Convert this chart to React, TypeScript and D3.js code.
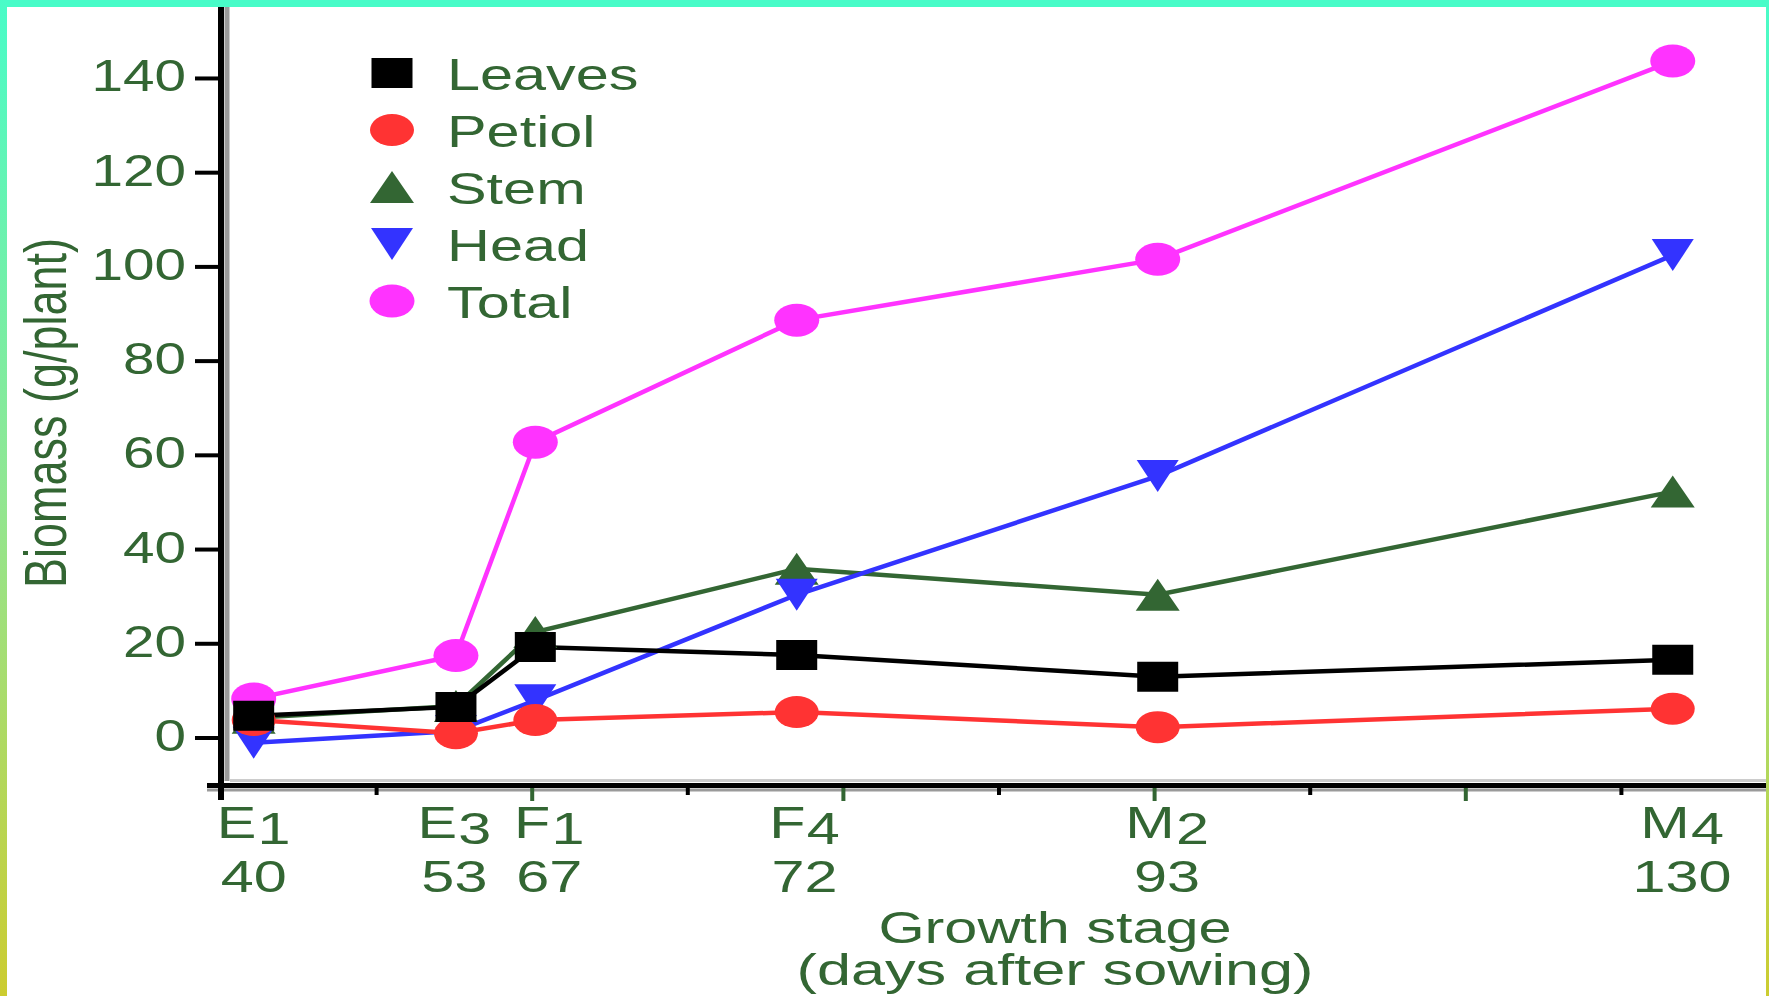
import React from 'react';
import * as d3 from 'd3';

// ---- data ----
const stageLetters = ['E', 'E', 'F', 'F', 'M', 'M'];
const stageSubs = ['1', '3', '1', '4', '2', '4'];
const dayLabels = ['40', '53', '67', '72', '93', '130'];
// position of each growth stage on the (unlabelled) x axis, in axis units
const stagePos = [0.21, 1.51, 2.02, 3.7, 6.02, 9.33];
// position of the stage / day labels under the axis, in axis units
const labelPos = [0.21, 1.5, 2.11, 3.75, 6.08, 9.39];

const leaves = [4.7, 6.6, 19.3, 17.6, 13.0, 16.6];
const petiol = [3.8, 1.0, 3.8, 5.5, 2.3, 6.2];
const stem = [4.3, 6.8, 22.5, 35.9, 30.4, 52.3];
const head = [-1.0, 1.5, 8.0, 30.4, 55.6, 102.5];
const total = [8.3, 17.5, 62.8, 88.7, 101.6, 143.7];

const yTicks = [0, 20, 40, 60, 80, 100, 120, 140];
const xMajorTicks = [2, 4, 6, 8];
const xMinorTicks = [1, 3, 5, 7, 9];

type Shape = 'square' | 'circle' | 'up' | 'down' | 'dot';
const legendSeries: { name: string; values: number[]; color: string; shape: Shape }[] = [
  { name: 'Leaves', values: leaves, color: '#000000', shape: 'square' },
  { name: 'Petiol', values: petiol, color: '#ff3333', shape: 'circle' },
  { name: 'Stem', values: stem, color: '#336633', shape: 'up' },
  { name: 'Head', values: head, color: '#3333ff', shape: 'down' },
  { name: 'Total', values: total, color: '#ff33ff', shape: 'dot' },
];
const drawOrder = ['Total', 'Stem', 'Head', 'Petiol', 'Leaves'];

const TEXT = '#336633';
const FONT = '"Liberation Sans", Arial, sans-serif';
const FS = 45;
const SX = 1.32;

function Marker({ shape, color, cx, cy }: { shape: Shape; color: string; cx: number; cy: number }) {
  const t = `translate(${cx},${cy})`;
  if (shape === 'square') return <path transform={t} d="M-20.5,-15h41v30h-41Z" fill={color} />;
  if (shape === 'circle') return <ellipse cx={cx} cy={cy} rx={22} ry={16} fill={color} />;
  if (shape === 'dot') return <ellipse cx={cx} cy={cy} rx={22.5} ry={16.5} fill={color} />;
  if (shape === 'up') return <path transform={t} d="M0,-16L22,16L-22,16Z" fill={color} />;
  return <path transform={t} d="M-21,-16L21,-16L0,16Z" fill={color} />;
}

export default function App() {
  const W = 1769;
  const H = 996;
  const x = d3.scaleLinear().domain([0, 10]).range([221, 1777]);
  const y = d3.scaleLinear().domain([-10, 155]).range([785.1, 7.8]);
  const line = d3
    .line<number>()
    .x((_, i) => x(stagePos[i]))
    .y((d) => y(d));

  const ordered = drawOrder.map((n) => legendSeries.find((s) => s.name === n)!);

  return (
    <svg
      width={W}
      height={H}
      viewBox={`0 0 ${W} ${H}`}
      style={{ position: 'absolute', left: 0, top: 0, display: 'block', background: '#fff' }}
    >
      <defs>
        <linearGradient id="edge" x1="0" y1="0" x2="0" y2="1">
          <stop offset="0" stopColor="#48fcc8" />
          <stop offset="0.5" stopColor="#92e692" />
          <stop offset="1" stopColor="#cccc30" />
        </linearGradient>
      </defs>
      <rect x={0} y={0} width={W} height={H} fill="#ffffff" />

      {/* axes */}
      <line x1={227} x2={227} y1={6} y2={781} stroke="#9a9a9a" strokeWidth={5} />
      <line x1={230} x2={W} y1={780.5} y2={780.5} stroke="#cccccc" strokeWidth={3} />
      <line x1={207} x2={W} y1={790} y2={790} stroke="#9a9a9a" strokeWidth={3} />
      <line x1={221} x2={221} y1={6} y2={800} stroke="#000" strokeWidth={6} />
      <line x1={207} x2={W} y1={785.5} y2={785.5} stroke="#000" strokeWidth={5} />

      {yTicks.map((v) => (
        <g key={'yt' + v}>
          <line x1={195} x2={218} y1={y(v)} y2={y(v)} stroke="#000" strokeWidth={4} />
          <text
            transform={`translate(186,${y(v) + 13}) scale(1.26,1)`}
            textAnchor="end"
            fontFamily={FONT}
            fontSize={FS}
            fill={TEXT}
          >
            {v}
          </text>
        </g>
      ))}
      {xMajorTicks.map((t) => (
        <line key={'xM' + t} x1={x(t)} x2={x(t)} y1={788} y2={801} stroke={TEXT} strokeWidth={4} />
      ))}
      {xMinorTicks.map((t) => (
        <line key={'xm' + t} x1={x(t)} x2={x(t)} y1={788} y2={795} stroke="#000" strokeWidth={4} />
      ))}

      {/* x labels */}
      {stageLetters.map((s, i) => (
        <g key={'xl' + i}>
          <text
            transform={`translate(${x(labelPos[i])},838) scale(${SX},1)`}
            textAnchor="middle"
            fontFamily={FONT}
            fontSize={FS}
            fill={TEXT}
          >
            {s}
            <tspan dx={1} dy={6}>
              {stageSubs[i]}
            </tspan>
          </text>
          <text
            transform={`translate(${x(labelPos[i])},892) scale(${SX},1)`}
            textAnchor="middle"
            fontFamily={FONT}
            fontSize={FS}
            fill={TEXT}
          >
            {dayLabels[i]}
          </text>
        </g>
      ))}

      <text
        transform={`translate(1055,943) scale(${SX},1)`}
        textAnchor="middle"
        fontFamily={FONT}
        fontSize={FS}
        fill={TEXT}
      >
        Growth stage
      </text>
      <text
        transform={`translate(1055,985) scale(1.36,1)`}
        textAnchor="middle"
        fontFamily={FONT}
        fontSize={FS}
        fill={TEXT}
      >
        (days after sowing)
      </text>
      <text
        transform={`translate(66,413) scale(${SX},1) rotate(-90)`}
        textAnchor="middle"
        fontFamily={FONT}
        fontSize={FS}
        fill={TEXT}
      >
        Biomass (g/plant)
      </text>

      {/* series lines */}
      {ordered.map((s) => (
        <path key={'l' + s.name} d={line(s.values) || ''} fill="none" stroke={s.color} strokeWidth={4.5} />
      ))}
      {/* markers */}
      {ordered.map((s) => (
        <g key={'m' + s.name}>
          {s.values.map((v, i) => (
            <Marker key={i} shape={s.shape} color={s.color} cx={x(stagePos[i])} cy={y(v)} />
          ))}
        </g>
      ))}

      {/* legend */}
      {legendSeries.map((s, i) => (
        <g key={'lg' + s.name}>
          <Marker shape={s.shape} color={s.color} cx={392} cy={73 + i * 57} />
          <text
            transform={`translate(447,${90 + i * 57}) scale(${SX},1)`}
            fontFamily={FONT}
            fontSize={FS}
            fill={TEXT}
          >
            {s.name}
          </text>
        </g>
      ))}

      {/* frame edges */}
      <rect x={0} y={0} width={W} height={7} fill="#48fcc8" />
      <rect x={0} y={0} width={7} height={H} fill="url(#edge)" />
      <rect x={W - 3} y={0} width={3} height={H} fill="url(#edge)" />
    </svg>
  );
}
